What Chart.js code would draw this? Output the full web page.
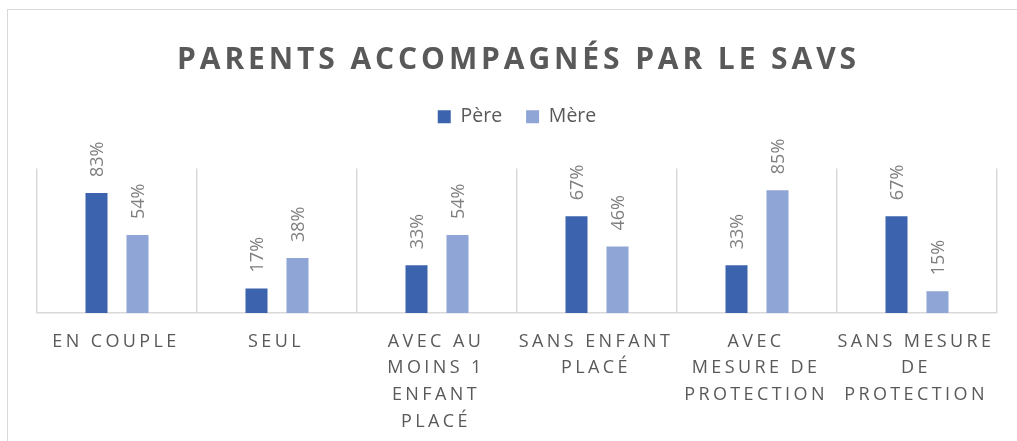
<!DOCTYPE html>
<html>
<head>
<meta charset="utf-8">
<script src="https://cdn.jsdelivr.net/npm/chart.js@4.4.1/dist/chart.umd.min.js"></script>
<style>
  html, body { margin: 0; padding: 0; background: #fff; }
  #wrap { position: relative; width: 1017px; height: 441px; overflow: hidden; }
  #frame { position: absolute; left: 7px; top: 9px; width: 1100px; height: 500px; border: 1px solid #d9d9d9; }
  #title {
    position: absolute; left: 0; top: 37px; width: 1017px; box-sizing: border-box;
    padding-left: 20px; text-align: center; line-height: 1;
    font: bold 30px 'Open Sans'; letter-spacing: 3.9px; color: #595959;
  }
  canvas { position: absolute; left: 0; top: 0; }
</style>
</head>
<body>
<div id="wrap">
  <div id="frame"></div>
  <canvas id="chart" width="1017" height="441"></canvas>
  <div id="title">PARENTS ACCOMPAGNÉS PAR LE SAVS</div>
</div>
<script>
const categories = [
    ['EN COUPLE'],
    ['SEUL'],
    ['AVEC AU', 'MOINS 1', 'ENFANT', 'PLACÉ'],
    ['SANS ENFANT', 'PLACÉ'],
    ['AVEC', 'MESURE DE', 'PROTECTION'],
    ['SANS MESURE', 'DE', 'PROTECTION']
];
const pere = [83, 17, 33, 67, 33, 67];
const mere = [54, 38, 54, 46, 85, 15];

// legend sits higher than the plot, leave room for the rotated value labels
const legendGap = {
    id: 'legendGap',
    beforeLayout(chart) {
        const legend = chart.legend;
        if (legend && !legend._gapPatched) {
            const fit = legend.fit;
            legend.fit = function () { fit.call(this); this.height += 32; };
            legend._gapPatched = true;
        }
    }
};

// rotated percentages above the bars
const barValues = {
    id: 'barValues',
    afterDatasetsDraw(chart) {
        const ctx = chart.ctx;
        ctx.save();
        ctx.font = '18px "Open Sans"';
        ctx.fillStyle = '#7f7f7f';
        ctx.textAlign = 'left';
        ctx.textBaseline = 'alphabetic';
        chart.data.datasets.forEach((ds, i) => {
            chart.getDatasetMeta(i).data.forEach((bar, j) => {
                ctx.save();
                ctx.translate(bar.x, bar.y - 16);
                ctx.rotate(-Math.PI / 2);
                ctx.fillText(ds.data[j] + '%', 0, 6.5);
                ctx.restore();
            });
        });
        ctx.restore();
    }
};

// spaced-out category labels under the axis
const xLabels = {
    id: 'xLabels',
    afterDraw(chart) {
        const ctx = chart.ctx;
        const xs = chart.scales.x;
        ctx.save();
        ctx.font = '18px "Open Sans"';
        ctx.letterSpacing = '3.4px';
        ctx.fillStyle = '#595959';
        ctx.textAlign = 'center';
        ctx.textBaseline = 'alphabetic';
        categories.forEach((lines, i) => {
            const cx = xs.getPixelForValue(i) - 1;
            lines.forEach((t, k) => {
                ctx.fillText(t, cx, chart.chartArea.bottom + 33.5 + k * 26.9);
            });
        });
        ctx.restore();
    }
};

new Chart(document.getElementById('chart').getContext('2d'), {
    type: 'bar',
    data: {
        labels: categories,
        datasets: [
            { label: 'Père', data: pere, backgroundColor: '#3c63ad', categoryPercentage: 0.5125, barPercentage: 0.537 },
            { label: 'Mère', data: mere, backgroundColor: '#8ea5d6', categoryPercentage: 0.5125, barPercentage: 0.537 }
        ]
    },
    options: {
        responsive: false,
        animation: false,
        layout: { padding: { top: 83, left: 37, right: 20, bottom: 128 } },
        plugins: {
            legend: {
                position: 'top',
                labels: {
                    boxWidth: 13,
                    boxHeight: 13,
                    padding: 24,
                    color: '#595959',
                    font: { family: 'Open Sans', size: 19.5 }
                }
            },
            tooltip: { enabled: false }
        },
        scales: {
            x: {
                grid: { offset: true, color: '#d9d9d9', lineWidth: 1.5, drawTicks: false },
                border: { color: '#d9d9d9', width: 1.5 },
                ticks: { display: false }
            },
            y: { display: false, min: 0, max: 100 }
        }
    },
    plugins: [legendGap, barValues, xLabels]
});
</script>
</body>
</html>
